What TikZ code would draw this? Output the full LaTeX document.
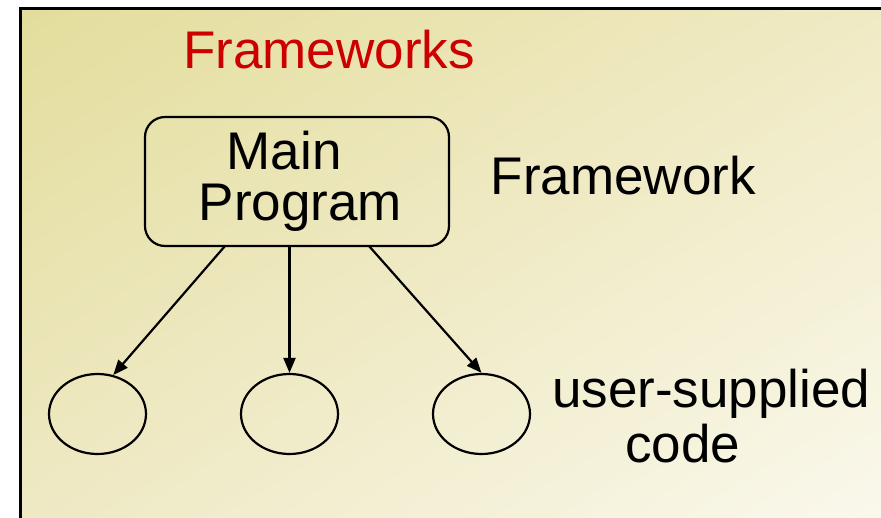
\documentclass[tikz,border=0pt]{standalone}
\usepackage{fontspec}
\setmainfont{Liberation Sans}
\usetikzlibrary{arrows.meta,shapes.geometric,shadings}
\definecolor{bgUL}{RGB}{227,221,156}
\definecolor{bgUR}{RGB}{240,234,196}
\definecolor{bgLL}{RGB}{238,233,195}
\definecolor{bgLR}{RGB}{250,248,236}
\definecolor{titlered}{RGB}{204,0,0}
\tikzset{
  bigtext/.style={inner sep=0pt, anchor=base west, font=\fontsize{53}{60}\selectfont},
  mainbox/.style={draw, line width=2.2pt, rounded corners=20pt, minimum width=304pt, minimum height=129pt, inner sep=0pt},
  codeoval/.style={draw, ellipse, line width=2.2pt, minimum width=97pt, minimum height=80pt, inner sep=0pt},
  arr/.style={line width=2.2pt, -{Triangle[length=15pt,width=12pt]}}
}
\begin{document}
\begin{tikzpicture}[x=1pt,y=-1pt]
\useasboundingbox (0,0) rectangle (881,517);
\fill[white] (0,0) rectangle (881,517);
\shade[upper left=bgUL, upper right=bgUR, lower left=bgLL, lower right=bgLR] (20,9) rectangle (881,517);
\draw[line width=3pt] (20,518) -- (20,8.5) -- (882,8.5);
\node[bigtext, text=titlered] (title) at (183,68) {Frameworks};
\node[mainbox] (mp) at (297,181.5) {};
\node[bigtext] (main) at (226.5,169) {Main};
\node[bigtext] (prog) at (198.5,220) {Program};
\node[bigtext] (fw) at (490.5,194) {Framework};
\node[codeoval] (e1) at (97.5,414) {};
\node[codeoval] (e2) at (289.5,414) {};
\node[codeoval] (e3) at (481.5,414) {};
\node[bigtext] (us) at (552,407) {user-supplied};
\node[bigtext] (cd) at (625,462) {code};
\coordinate (s1) at (225,246);
\coordinate (s2) at (289.5,246);
\coordinate (s3) at (369,246);
\draw[arr] (s1) -- (e1.68);
\draw[arr] (s2) -- (e2.north);
\draw[arr] (s3) -- (e3.north);
\end{tikzpicture}
\end{document}
